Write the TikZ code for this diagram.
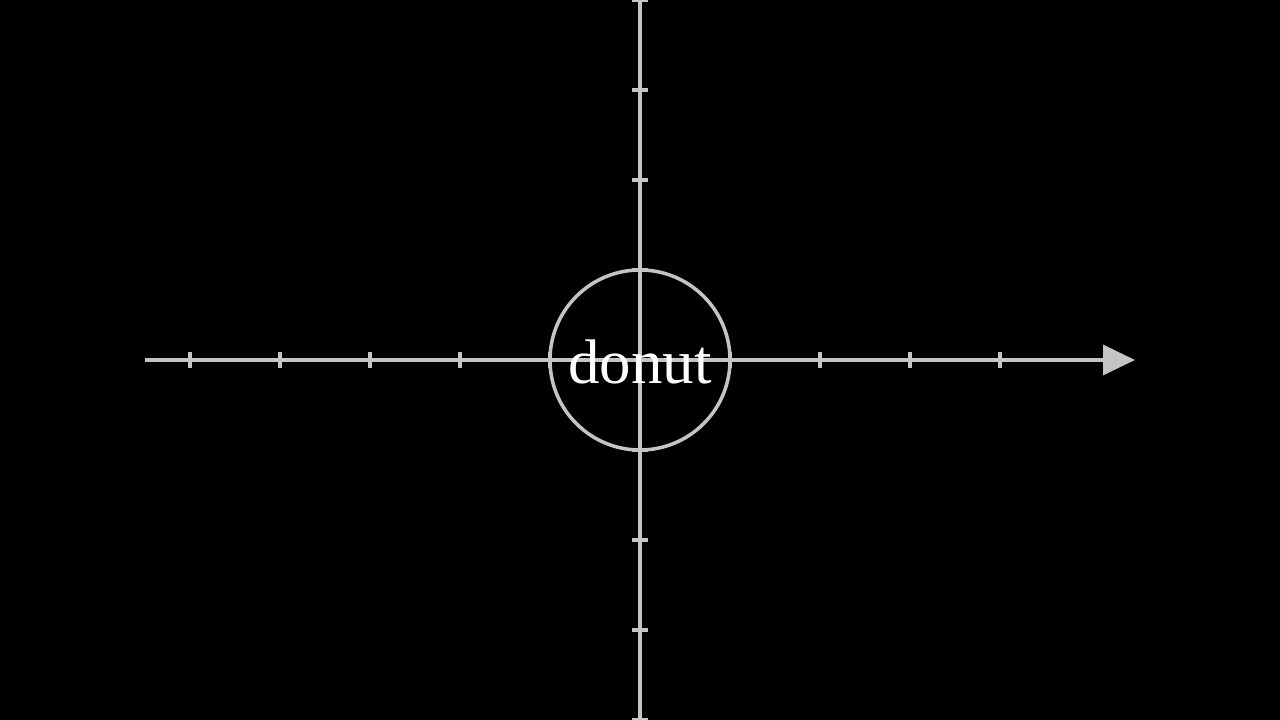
\documentclass[tikz,border=0pt]{standalone}
\usepackage{fontspec}
\setmainfont{Liberation Serif}
\usetikzlibrary{arrows.meta}
\definecolor{axisgray}{HTML}{C4C4C4}
\begin{document}
\begin{tikzpicture}[
  axisline/.style={draw=axisgray, line width=1pt},
  tickmark/.style={draw=axisgray, line width=1pt},
  ring/.style={circle, draw=axisgray, line width=1pt, minimum size=1.8cm, inner sep=0pt},
  label/.style={text=white, font=\fontsize{17.9}{20}\selectfont, inner sep=0pt}
]
\fill[black] (-6.4,-3.6) rectangle (6.4,3.6);
\useasboundingbox (-6.4,-3.6) rectangle (6.4,3.6);
\coordinate (xl) at (-4.95,0);
\coordinate (xr) at (4.95,0);
\coordinate (yb) at (0,-3.6);
\coordinate (yt) at (0,3.6);
\draw[axisline, -{Triangle[length=3.2mm,width=3mm]}] (xl) -- (xr);
\draw[axisline] (yb) -- (yt);
\foreach \x in {-4.5,-3.6,-2.7,-1.8,-0.9,0.9,1.8,2.7,3.6}
  \draw[tickmark] (\x,-0.08) -- (\x,0.08);
\foreach \y in {-3.6,-2.7,-1.8,-0.9,0.9,1.8,2.7,3.6}
  \draw[tickmark] (-0.08,\y) -- (0.08,\y);
\node[ring] (donutring) at (0,0) {};
\node[label] (donut) at (0,-0.015) {donut};
\end{tikzpicture}
\end{document}
